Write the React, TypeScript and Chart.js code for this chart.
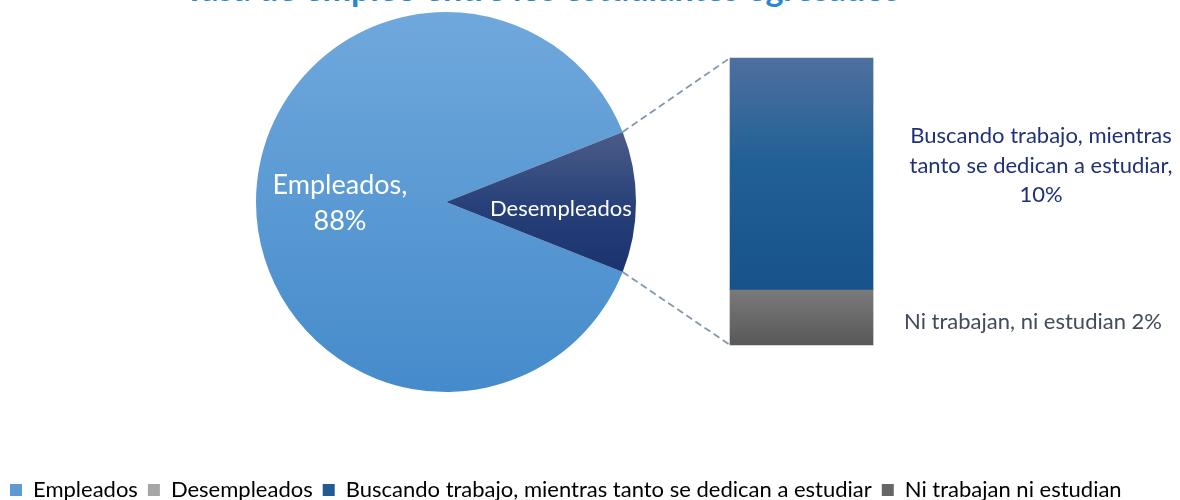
import React, { useEffect, useRef } from 'react';
import { Chart, registerables } from 'chart.js';

Chart.register(...registerables);

// ---------- data ----------
const titleText = 'Tasa de empleo entre los estudiantes egresados';
const pieLabels = ['Empleados', 'Desempleados'];
const pieValues = [88, 12];
const barLabels = ['Ni trabajan, ni estudian', 'Buscando trabajo, mientras tanto se dedican a estudiar'];
const barValues = [2.3, 9.7];
const barLabelLines = [
  [`Ni trabajan, ni estudian ${Math.round(barValues[0])}%`],
  ['Buscando trabajo, mientras', 'tanto se dedican a estudiar,', `${Math.round(barValues[1])}%`],
];
const legendLabels = [
  'Empleados',
  'Desempleados',
  'Buscando trabajo, mientras tanto se dedican a estudiar',
  'Ni trabajan ni estudian',
];
const legendColors = ['#5f9ad6', '#a6a6a6', '#245a92', '#666666'];

const FONT = 'Lato';

export default function App() {
  const pieRef = useRef<HTMLCanvasElement | null>(null);
  const barRef = useRef<HTMLCanvasElement | null>(null);

  useEffect(() => {
    document.body.style.margin = '0';
    document.body.style.overflow = 'hidden';
    Chart.defaults.font.family = FONT;

    const total = pieValues.reduce((a, b) => a + b, 0);
    // put the centre of the "Desempleados" slice pointing right
    const rotation = 90 - ((pieValues[0] + pieValues[1] / 2) / total) * 360 + 360;

    const pieLabelPlugin = {
      id: 'pieLabels',
      afterDatasetsDraw(chart: any) {
        const ctx = chart.ctx;
        const meta = chart.getDatasetMeta(0);
        meta.data.forEach((arc: any, i: number) => {
          const p = arc.getProps(['x', 'y', 'startAngle', 'endAngle', 'outerRadius'], true);
          const mid = (p.startAngle + p.endAngle) / 2;
          ctx.save();
          ctx.fillStyle = '#ffffff';
          ctx.textAlign = 'center';
          ctx.textBaseline = 'alphabetic';
          if (i === 0) {
            const ax = p.x + Math.cos(mid) * p.outerRadius * 0.558;
            const ay = p.y + Math.sin(mid) * p.outerRadius * 0.558;
            ctx.font = `27px ${FONT}`;
            ctx.fillText(`${pieLabels[0]},`, ax, ay - 8);
            ctx.fillText(`${pieValues[0]}%`, ax, ay + 28);
          } else {
            const ax = p.x + Math.cos(mid) * p.outerRadius * 0.605;
            const ay = p.y + Math.sin(mid) * p.outerRadius * 0.605;
            ctx.font = `22px ${FONT}`;
            ctx.fillText(pieLabels[1], ax, ay + 14);
          }
          ctx.restore();
        });
      },
    };

    const pie = new Chart(pieRef.current as HTMLCanvasElement, {
      type: 'pie',
      data: {
        labels: pieLabels,
        datasets: [
          {
            data: pieValues,
            borderWidth: 0,
            backgroundColor: (c: any) => {
              const chart = c.chart;
              const a = chart.chartArea;
              if (!a) return c.dataIndex === 0 ? '#5b9bd5' : '#243f78';
              if (c.dataIndex === 0) {
                const g = chart.ctx.createLinearGradient(0, a.top, 0, a.bottom);
                g.addColorStop(0, '#70a8dc');
                g.addColorStop(1, '#458bcb');
                return g;
              }
              const cy = (a.top + a.bottom) / 2;
              const r = (a.bottom - a.top) / 2;
              const half = (pieValues[1] / total) * Math.PI;
              const dy = r * Math.sin(half);
              const g = chart.ctx.createLinearGradient(0, cy - dy, 0, cy + dy);
              g.addColorStop(0, '#4c5c88');
              g.addColorStop(0.55, '#263f79');
              g.addColorStop(1, '#1b346f');
              return g;
            },
          },
        ],
      },
      options: {
        responsive: false,
        animation: false,
        rotation,
        layout: { padding: 12 },
        plugins: {
          legend: { display: false },
          tooltip: { enabled: false },
        },
      },
      plugins: [pieLabelPlugin],
    } as any);

    const connectorPlugin = {
      id: 'connectors',
      afterDatasetsDraw(chart: any) {
        const arc: any = pie.getDatasetMeta(0).data[1];
        if (!arc) return;
        const p = arc.getProps(['x', 'y', 'startAngle', 'endAngle', 'outerRadius'], true);
        const top: any = chart.getDatasetMeta(1).data[0];
        const bot: any = chart.getDatasetMeta(0).data[0];
        const t = top.getProps(['x', 'y', 'width'], true);
        const b = bot.getProps(['base'], true);
        const left = t.x - t.width / 2;
        const ctx = chart.ctx;
        ctx.save();
        ctx.setLineDash([7, 4]);
        ctx.strokeStyle = '#8497b0';
        ctx.lineWidth = 1.8;
        ctx.beginPath();
        ctx.moveTo(p.x + Math.cos(p.startAngle) * p.outerRadius, p.y + Math.sin(p.startAngle) * p.outerRadius);
        ctx.lineTo(left, t.y);
        ctx.moveTo(p.x + Math.cos(p.endAngle) * p.outerRadius, p.y + Math.sin(p.endAngle) * p.outerRadius);
        ctx.lineTo(left, b.base);
        ctx.stroke();
        ctx.restore();
      },
    };

    const barLabelPlugin = {
      id: 'barLabels',
      afterDatasetsDraw(chart: any) {
        const ctx = chart.ctx;
        ctx.save();
        ctx.textAlign = 'center';
        ctx.textBaseline = 'alphabetic';
        ctx.font = `22px ${FONT}`;
        // top segment label
        const top: any = chart.getDatasetMeta(1).data[0];
        const t = top.getProps(['x', 'y', 'base', 'width'], true);
        const tcx = t.x + t.width / 2 + 168;
        const tcy = (t.y + t.base) / 2;
        ctx.fillStyle = '#1f3179';
        const lines = barLabelLines[1];
        const lh = 29.5;
        lines.forEach((ln, i) => {
          ctx.fillText(ln, tcx, tcy - 1 + (i - 1) * lh);
        });
        // bottom segment label
        const bot: any = chart.getDatasetMeta(0).data[0];
        const b = bot.getProps(['x', 'y', 'base', 'width'], true);
        ctx.fillStyle = '#414b5a';
        ctx.fillText(barLabelLines[0][0], b.x + b.width / 2 + 160, (b.y + b.base) / 2 + 12);
        ctx.restore();
      },
    };

    const bar = new Chart(barRef.current as HTMLCanvasElement, {
      type: 'bar',
      data: {
        datasets: [
          {
            label: barLabels[0],
            data: [{ x: 1, y: barValues[0] }],
            barThickness: 143,
            borderWidth: 0,
            backgroundColor: (c: any) => {
              const ys = c.chart.scales.y;
              if (!ys) return '#666666';
              const g = c.chart.ctx.createLinearGradient(0, ys.getPixelForValue(barValues[0]), 0, ys.getPixelForValue(0));
              g.addColorStop(0, '#7a7a7a');
              g.addColorStop(1, '#585858');
              return g;
            },
          },
          {
            label: barLabels[1],
            data: [{ x: 1, y: barValues[1] }],
            barThickness: 143,
            borderWidth: 0,
            backgroundColor: (c: any) => {
              const ys = c.chart.scales.y;
              if (!ys) return '#215e96';
              const g = c.chart.ctx.createLinearGradient(
                0,
                ys.getPixelForValue(barValues[0] + barValues[1]),
                0,
                ys.getPixelForValue(barValues[0])
              );
              g.addColorStop(0, '#4e709e');
              g.addColorStop(0.45, '#216096');
              g.addColorStop(1, '#18528b');
              return g;
            },
          },
        ],
      },
      options: {
        responsive: false,
        animation: false,
        layout: { padding: 0 },
        scales: {
          x: { type: 'linear', display: false, stacked: true, offset: false, min: 0, max: 1.4722 },
          y: { type: 'linear', display: false, stacked: true, min: -5.185, max: 14.425 },
        },
        plugins: {
          tooltip: { enabled: false },
          legend: {
            position: 'bottom',
            align: 'start',
            onClick: () => {},
            labels: {
              boxWidth: 12,
              boxHeight: 12,
              padding: 10,
              color: '#44546a',
              font: { family: FONT, size: 22 },
              generateLabels: () =>
                legendLabels.map((text, i) => ({
                  text,
                  fillStyle: legendColors[i],
                  strokeStyle: legendColors[i],
                  lineWidth: 0,
                  hidden: false,
                  index: i,
                })),
            },
          },
        },
      },
      plugins: [connectorPlugin, barLabelPlugin],
    } as any);

    return () => {
      bar.destroy();
      pie.destroy();
    };
  }, []);

  return (
    <div
      style={{
        position: 'fixed',
        left: 0,
        top: 0,
        width: 1180,
        height: 500,
        overflow: 'hidden',
        background: '#ffffff',
      }}
    >
      <div
        style={{
          position: 'absolute',
          left: 542,
          top: -32,
          transform: 'translateX(-50%)',
          whiteSpace: 'nowrap',
          font: `bold 34px ${FONT}`,
          lineHeight: '40px',
          color: '#2a86d3',
        }}
      >
        {titleText}
      </div>
      <canvas
        ref={barRef}
        width={1180}
        height={511}
        style={{ position: 'absolute', left: 0, top: 0, width: 1180, height: 511, display: 'block' }}
      />
      <canvas
        ref={pieRef}
        width={892}
        height={404}
        style={{ position: 'absolute', left: 0, top: 0, width: 892, height: 404, display: 'block' }}
      />
    </div>
  );
}
